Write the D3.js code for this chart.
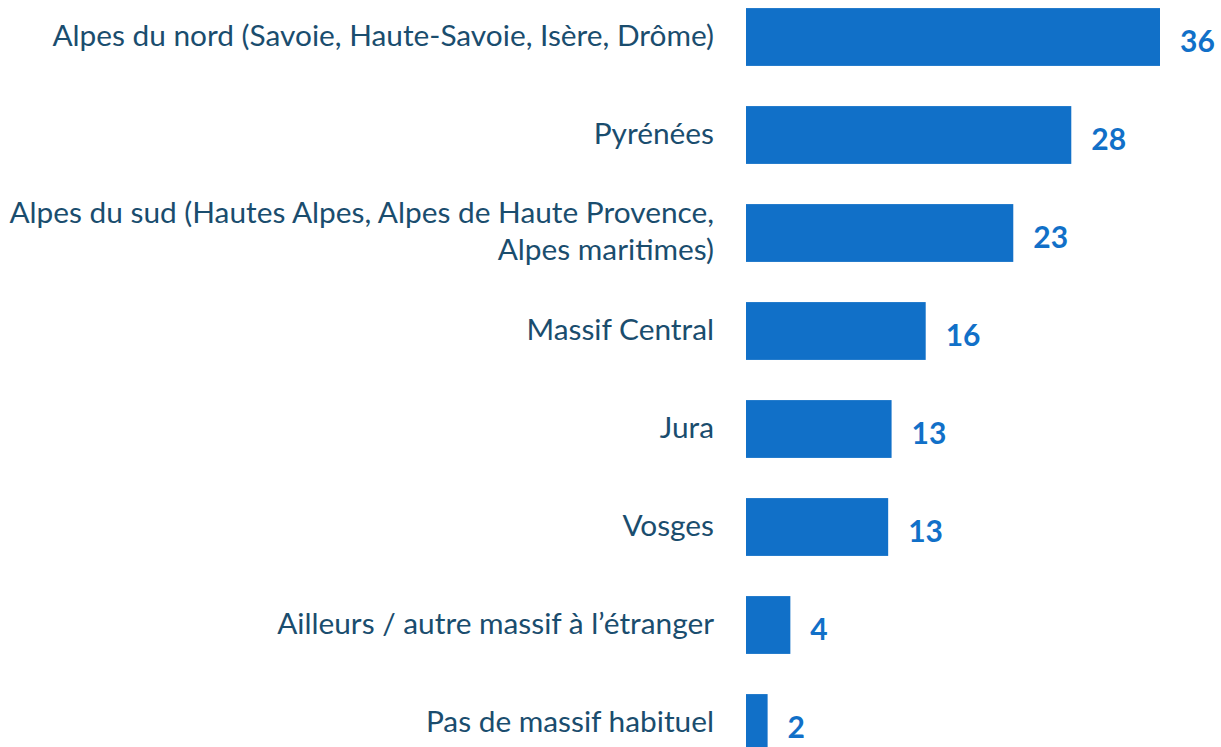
<!DOCTYPE html>
<html>
<head>
<meta charset="utf-8">
<script src="https://cdn.jsdelivr.net/npm/d3@7"></script>
<style>
  html, body { margin: 0; padding: 0; background: #ffffff; overflow: hidden; }
  svg { display: block; }
</style>
</head>
<body>
<svg id="chart" width="1221" height="747"></svg>
<script>
const categories = [
  ["Alpes du nord (Savoie, Haute-Savoie, Isère, Drôme)"],
  ["Pyrénées"],
  ["Alpes du sud (Hautes Alpes, Alpes de Haute Provence,", "Alpes maritimes)"],
  ["Massif Central"],
  ["Jura"],
  ["Vosges"],
  ["Ailleurs / autre massif à l’étranger"],
  ["Pas de massif habituel"]
];
const values = [36.4, 28.6, 23.5, 15.8, 12.8, 12.5, 3.9, 1.9];
const valueLabels = ["36", "28", "23", "16", "13", "13", "4", "2"];

const W = 1221, H = 747;
const barColor = "#1170c8";
const textColor = "#1a4d6e";
const fontFamily = "Lato, 'Open Sans', 'DejaVu Sans', sans-serif";

const svg = d3.select("#chart");
const idx = d3.range(categories.length);

const y = d3.scaleBand()
  .domain(idx)
  .range([-12, 772])
  .paddingInner(0.41)
  .paddingOuter(0.205);

const x = d3.scaleLinear()
  .domain([0, 36.4])
  .range([746, 1160]);

// fit category font size to reference width of the first label
const probe = svg.append("text")
  .attr("font-family", fontFamily)
  .attr("font-size", 100)
  .text(categories[0][0]);
const probeW = probe.node().getComputedTextLength();
probe.remove();
const catFont = 100 * 662 / probeW;
const lineH = catFont * 1.25;

// bars
svg.append("g").selectAll("rect")
  .data(idx)
  .join("rect")
  .attr("x", x(0))
  .attr("y", i => y(i))
  .attr("width", i => x(values[i]) - x(0))
  .attr("height", y.bandwidth())
  .attr("fill", barColor);

// category labels
const cat = svg.append("g").selectAll("text")
  .data(idx)
  .join("text")
  .attr("text-anchor", "end")
  .attr("font-family", fontFamily)
  .attr("font-size", catFont)
  .attr("fill", textColor);

cat.each(function(i) {
  const lines = categories[i];
  const cy = y(i) + y.bandwidth() / 2;
  const first = cy + 8.5 - (lines.length - 1) * lineH / 2;
  d3.select(this).selectAll("tspan")
    .data(lines)
    .join("tspan")
    .attr("x", 714)
    .attr("y", (d, k) => first + k * lineH)
    .text(d => d);
});

// value labels
svg.append("g").selectAll("text")
  .data(idx)
  .join("text")
  .attr("x", i => x(values[i]) + 20)
  .attr("y", i => y(i) + y.bandwidth() / 2 + 15)
  .attr("font-family", fontFamily)
  .attr("font-weight", "bold")
  .attr("font-size", 30)
  .attr("fill", barColor)
  .text(i => valueLabels[i]);
</script>
</body>
</html>
